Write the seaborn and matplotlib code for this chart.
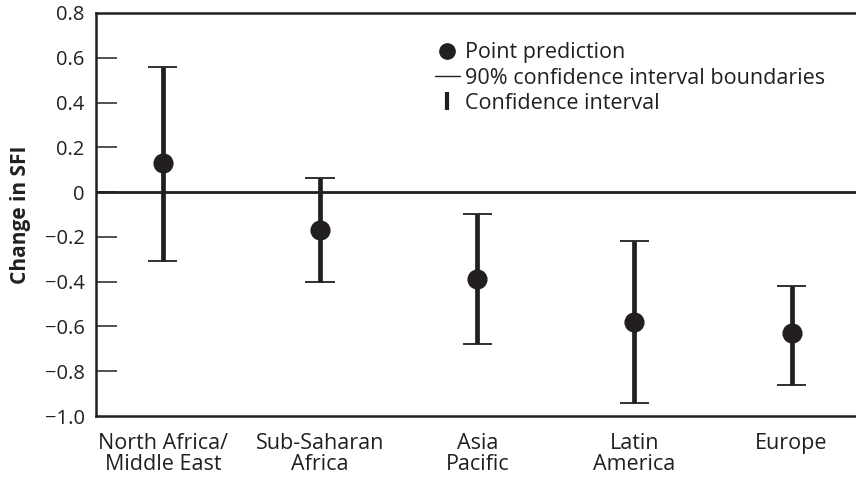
import numpy as np
import pandas as pd
import matplotlib
matplotlib.use("Agg")
import matplotlib.pyplot as plt
from matplotlib.lines import Line2D
import seaborn as sns

regions = ["North Africa/\nMiddle East", "Sub-Saharan\nAfrica", "Asia\nPacific",
           "Latin\nAmerica", "Europe"]
point = [0.13, -0.17, -0.39, -0.58, -0.63]
lower = [-0.31, -0.40, -0.68, -0.94, -0.86]
upper = [0.56, 0.065, -0.10, -0.22, -0.42]

yticks = [-1.0, -0.8, -0.6, -0.4, -0.2, 0, 0.2, 0.4, 0.6, 0.8]
ytick_labels = ["\u22121.0", "\u22120.8", "\u22120.6", "\u22120.4", "\u22120.2",
                "0", "0.2", "0.4", "0.6", "0.8"]

ink = "#231f20"

# long table: low / point / high per region -> median is the point, min/max the interval
df = pd.DataFrame({
    "region": np.repeat(regions, 3),
    "value": np.ravel(np.column_stack([lower, point, upper])),
})

sns.set_theme(style="white")
plt.rcParams["font.family"] = ["Open Sans", "DejaVu Sans"]

fig = plt.figure(figsize=(8.56, 4.79), dpi=100)
ax = fig.add_axes([0.112, 0.1315, 0.888, 0.8415])

sns.pointplot(data=df, x="region", y="value", order=regions,
              estimator="median", errorbar=lambda v: (v.min(), v.max()),
              linestyle="none", color=ink, markersize=12.5,
              err_kws={"linewidth": 3.4, "solid_capstyle": "butt"},
              capsize=0, ax=ax, zorder=3)

# thin caps at interval ends
xs = np.arange(len(regions))
ax.hlines(lower, xs - 0.093, xs + 0.093, color=ink, linewidth=1.3, zorder=3)
ax.hlines(upper, xs - 0.093, xs + 0.093, color=ink, linewidth=1.3, zorder=3)

ax.axhline(0, color=ink, linewidth=2, zorder=2)

ax.set_xlim(-0.426, 4.41)
ax.set_ylim(-1.0, 0.8)
ax.set_yticks(yticks)
ax.set_yticklabels(ytick_labels)
ax.set_xlabel("")
ax.set_ylabel("Change in SFI", fontsize=15, fontweight="bold", color=ink, labelpad=10)

ax.tick_params(axis="y", left=True, direction="in", length=15, width=1.1, color=ink,
               labelsize=14.5, labelcolor=ink, pad=8)
ax.tick_params(axis="x", bottom=False, length=0, labelsize=15.5, labelcolor=ink, pad=12)
for lab in ax.get_xticklabels():
    lab.set_linespacing(1.0)

# no tick marks at the frame ends
ticks = ax.yaxis.get_major_ticks()
ticks[0].tick1line.set_visible(False)
ticks[-1].tick1line.set_visible(False)

ax.spines["right"].set_visible(False)
for side in ["left", "bottom", "top"]:
    ax.spines[side].set_color(ink)
    ax.spines[side].set_linewidth(1.8)

handles = [
    Line2D([], [], linestyle="none", marker="o", markersize=11, color=ink),
    Line2D([], [], color=ink, linewidth=1.0),
    Line2D([], [], linestyle="none", marker="|", markersize=13, markeredgewidth=3, color=ink),
]
labels = ["Point prediction", "90% confidence interval boundaries", "Confidence interval"]
ax.legend(handles, labels, loc="upper left", bbox_to_anchor=(0.42, 0.975),
          frameon=False, fontsize=15.5, handlelength=1.2, handletextpad=0.2,
          labelspacing=0.2, labelcolor=ink)

fig.savefig("out.png", dpi=100)
